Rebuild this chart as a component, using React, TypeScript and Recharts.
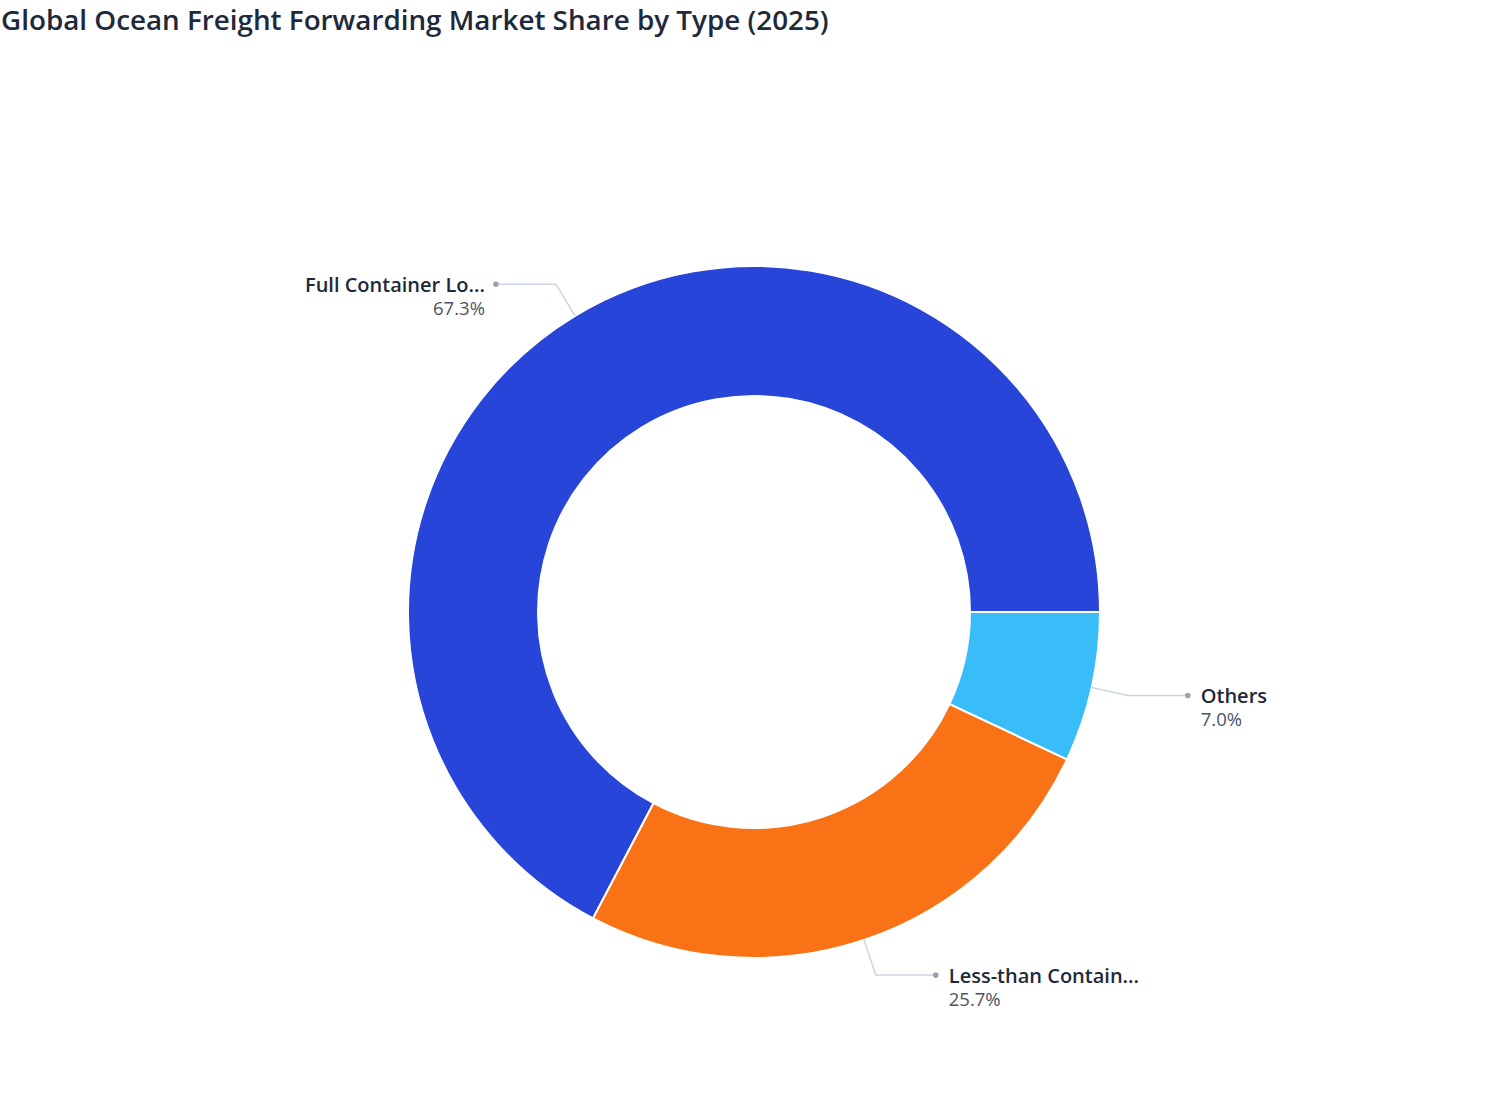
import { Cell, Pie, PieChart } from 'recharts';

const categories = ['Full Container Load (FCL)', 'Less-than Container Load (LCL)', 'Others'];
const shares = [67.3, 25.7, 7.0];
const colors = ['#2745D9', '#F97316', '#38BDF8'];

const data = categories.map((name, i) => ({ name, value: shares[i] }));

const RAD = Math.PI / 180;
const FONT = '"Open Sans", "Noto Sans", sans-serif';

function truncate(s: string, n = 17) {
  return s.length > n + 1 ? s.slice(0, n) + '...' : s;
}

function renderLabel(props: any) {
  const { cx, cy, midAngle, outerRadius, name, value } = props;
  const cos = Math.cos(-midAngle * RAD);
  const sin = Math.sin(-midAngle * RAD);
  const x0 = cx + outerRadius * cos;
  const y0 = cy + outerRadius * sin;
  const x1 = cx + (outerRadius + 37) * cos;
  const y1 = cy + (outerRadius + 37) * sin;
  const right = cos >= 0;
  const x2 = x1 + (right ? 60 : -60);
  const tx = x2 + (right ? 13 : -11);
  const anchor = right ? 'start' : 'end';
  return (
    <g>
      <polyline
        points={`${x0},${y0} ${x1},${y1} ${x2},${y1}`}
        fill="none"
        stroke="#CBD5E1"
        strokeWidth={1.5}
      />
      <circle cx={x2} cy={y1} r={2.8} fill="#9CA3AF" />
      <text
        x={tx}
        y={y1}
        textAnchor={anchor}
        dominantBaseline="central"
        fontFamily={FONT}
        fontSize={20}
        fontWeight={600}
        fill="#1E293B"
      >
        {truncate(name)}
      </text>
      <text
        x={tx}
        y={y1 + 23}
        textAnchor={anchor}
        dominantBaseline="central"
        fontFamily={FONT}
        fontSize={18.5}
        fill="#4B5563"
      >
        {`${Number(value).toFixed(1)}%`}
      </text>
    </g>
  );
}

export default function App() {
  return (
    <div style={{ position: 'absolute', top: 0, left: 0, width: 1508, height: 1120, background: '#fff' }}>
      <div
        style={{
          position: 'absolute',
          top: 0,
          left: 1,
          fontFamily: FONT,
          fontSize: 27.8,
          fontWeight: 600,
          color: '#1E293B',
          lineHeight: '38px',
          whiteSpace: 'nowrap',
        }}
      >
        Global Ocean Freight Forwarding Market Share by Type (2025)
      </div>
      <PieChart width={1508} height={1120} margin={{ top: 0, right: 0, bottom: 0, left: 0 }}>
        <Pie
          data={data}
          dataKey="value"
          nameKey="name"
          cx={754}
          cy={612}
          innerRadius={216}
          outerRadius={346}
          startAngle={0}
          endAngle={360}
          stroke="#FFFFFF"
          strokeWidth={2}
          label={renderLabel}
          labelLine={false}
          isAnimationActive={false}
        >
          {data.map((_, i) => (
            <Cell key={i} fill={colors[i]} />
          ))}
        </Pie>
      </PieChart>
    </div>
  );
}
